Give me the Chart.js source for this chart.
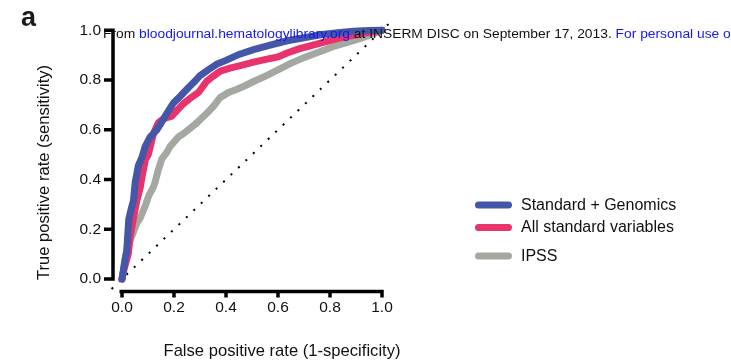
<!DOCTYPE html>
<html>

<head>
  <meta charset="utf-8" />
  <style>
    body { margin: 0; background: #fff; }
  </style>
</head>

<script src="https://cdn.jsdelivr.net/npm/chart.js"></script>

<body>
  <canvas id="rocChart" width="731" height="361"></canvas>

  <script>
    // ROC curves, false positive rate (x) against true positive rate (y)
    var genomicsFpr = [0, 0.006, 0.012, 0.018, 0.026, 0.035, 0.044, 0.051, 0.063, 0.077, 0.089, 0.108, 0.134, 0.152, 0.172, 0.198, 0.224, 0.256, 0.28, 0.30, 0.333, 0.365, 0.40, 0.45, 0.506, 0.57, 0.635, 0.70, 0.763, 0.83, 0.89, 0.95, 1.0];
    var genomicsTpr = [0, 0.04, 0.08, 0.11, 0.24, 0.28, 0.315, 0.39, 0.456, 0.49, 0.533, 0.571, 0.600, 0.630, 0.665, 0.708, 0.735, 0.77, 0.795, 0.818, 0.842, 0.864, 0.879, 0.903, 0.922, 0.94, 0.958, 0.97, 0.982, 0.99, 0.996, 0.999, 1.0];

    var standardFpr = [0, 0.008, 0.016, 0.024, 0.032, 0.045, 0.057, 0.070, 0.076, 0.09, 0.101, 0.121, 0.14, 0.16, 0.191, 0.236, 0.26, 0.294, 0.326, 0.35, 0.378, 0.415, 0.455, 0.506, 0.558, 0.60, 0.635, 0.68, 0.763, 0.84, 0.891, 0.95, 1.0];
    var standardTpr = [0, 0.04, 0.07, 0.10, 0.175, 0.25, 0.315, 0.367, 0.405, 0.48, 0.5, 0.584, 0.628, 0.645, 0.655, 0.705, 0.725, 0.75, 0.795, 0.815, 0.836, 0.848, 0.858, 0.872, 0.884, 0.893, 0.909, 0.925, 0.948, 0.97, 0.98, 0.992, 1.0];

    var ipssFpr = [0, 0.006, 0.015, 0.024, 0.039, 0.057, 0.07, 0.09, 0.103, 0.121, 0.128, 0.14, 0.153, 0.173, 0.185, 0.217, 0.236, 0.26, 0.288, 0.307, 0.33, 0.352, 0.378, 0.41, 0.44, 0.475, 0.506, 0.55, 0.596, 0.645, 0.699, 0.75, 0.814, 0.87, 0.917, 0.96, 1.0];
    var ipssTpr = [0, 0.034, 0.10, 0.138, 0.175, 0.225, 0.245, 0.295, 0.335, 0.37, 0.392, 0.44, 0.482, 0.51, 0.533, 0.571, 0.584, 0.604, 0.628, 0.647, 0.67, 0.695, 0.73, 0.75, 0.762, 0.778, 0.794, 0.815, 0.839, 0.865, 0.89, 0.91, 0.935, 0.952, 0.967, 0.983, 1.0];

    // chance line, runs a little past both ends of the axes
    var chanceRange = [-0.04, 1.03];

    var seriesLabels = ['Standard + Genomics', 'All standard variables', 'IPSS'];
    var tickValues = [0, 0.2, 0.4, 0.6, 0.8, 1.0];

    function toPoints(xs, ys) {
      return xs.map(function (x, i) { return { x: x, y: ys[i] }; });
    }

    var FONT = '"Liberation Sans", Arial, sans-serif';

    function curve(label, xs, ys, color) {
      return {
        label: label,
        data: toPoints(xs, ys),
        borderColor: color,
        backgroundColor: color,
        borderWidth: 7,
        borderCapStyle: 'round',
        borderJoinStyle: 'miter',
        pointRadius: 0,
        tension: 0,
        clip: false
      };
    }

    // offset Prism-style axes, titles, legend and the page stamp
    var decorations = {
      id: 'decorations',
      afterDraw: function (chart) {
        var ctx = chart.ctx;
        var xs = chart.scales.x, ys = chart.scales.y;
        var axisX = xs.getPixelForValue(0) - 9;
        var axisY = ys.getPixelForValue(0) + 12.5;

        ctx.save();
        ctx.strokeStyle = '#000';
        ctx.lineWidth = 3.5;
        ctx.lineCap = 'butt';

        // y axis + ticks
        ctx.beginPath();
        ctx.moveTo(axisX, ys.getPixelForValue(1) - 1.75);
        ctx.lineTo(axisX, ys.getPixelForValue(0) + 1.75);
        tickValues.forEach(function (v) {
          var py = ys.getPixelForValue(v);
          ctx.moveTo(axisX - 9, py);
          ctx.lineTo(axisX, py);
        });
        ctx.stroke();

        // x axis + ticks
        ctx.beginPath();
        ctx.moveTo(xs.getPixelForValue(0) - 2.5, axisY);
        ctx.lineTo(xs.getPixelForValue(1) + 1.75, axisY);
        tickValues.forEach(function (v) {
          var px = xs.getPixelForValue(v);
          ctx.moveTo(px, axisY - 1.75);
          ctx.lineTo(px, axisY + 6);
        });
        ctx.stroke();

        // axis titles
        ctx.fillStyle = '#111';
        ctx.font = '16.6px ' + FONT;
        ctx.textAlign = 'center';
        ctx.textBaseline = 'middle';
        ctx.fillText('False positive rate (1-specificity)', 282, 351);
        ctx.save();
        ctx.translate(44, 172.5);
        ctx.rotate(-Math.PI / 2);
        ctx.fillText('True positive rate (sensitivity)', 0, 0);
        ctx.restore();

        // panel letter
        ctx.font = 'bold 27px ' + FONT;
        ctx.textAlign = 'left';
        ctx.textBaseline = 'alphabetic';
        ctx.fillStyle = '#1a1a1a';
        ctx.fillText('a', 21, 26);

        // legend
        var rows = [205, 227.5, 256];
        ctx.font = '16px ' + FONT;
        ctx.textBaseline = 'middle';
        ctx.lineCap = 'round';
        ctx.lineWidth = 7;
        for (var i = 0; i < 3; i++) {
          var ds = chart.data.datasets[i];
          ctx.strokeStyle = ds.borderColor;
          ctx.beginPath();
          ctx.moveTo(478.5, rows[i]);
          ctx.lineTo(508.5, rows[i]);
          ctx.stroke();
          ctx.fillStyle = '#111';
          ctx.fillText(ds.label, 521, rows[i] + 0.5);
        }

        // download stamp across the top
        var stamp = [
          ['From ', '#111'],
          ['bloodjournal.hematologylibrary.org', '#1616e8'],
          [' at INSERM DISC on September 17, 2013. ', '#111'],
          ['For personal use only.', '#1616e8']
        ];
        ctx.save();
        ctx.translate(103, 38);
        ctx.scale(1.105, 1);
        ctx.font = '12.5px Arial, "Liberation Sans", sans-serif';
        ctx.textBaseline = 'alphabetic';
        var cx = 0;
        stamp.forEach(function (part) {
          ctx.fillStyle = part[1];
          ctx.fillText(part[0], cx, 0);
          cx += ctx.measureText(part[0]).width;
        });
        ctx.restore();

        ctx.restore();
      }
    };

    var tickOptions = {
      stepSize: 0.2,
      color: '#111',
      font: { family: FONT, size: 15.5 },
      callback: function (v) { return v.toFixed(1); }
    };

    new Chart(document.getElementById('rocChart'), {
      type: 'line',
      data: {
        datasets: [
          curve(seriesLabels[0], genomicsFpr, genomicsTpr, '#4456a8'),
          curve(seriesLabels[1], standardFpr, standardTpr, '#e8336d'),
          curve(seriesLabels[2], ipssFpr, ipssTpr, '#a3a9a0'),
          {
            label: 'Chance',
            data: toPoints(chanceRange, chanceRange),
            borderColor: '#000',
            borderWidth: 2,
            borderDash: [2, 8.3],
            pointRadius: 0,
            clip: false
          }
        ]
      },
      options: {
        responsive: false,
        animation: false,
        layout: { padding: { left: 0, top: 18, right: 349, bottom: 0 } },
        plugins: {
          legend: { display: false },
          tooltip: { enabled: false }
        },
        scales: {
          x: {
            type: 'linear',
            position: 'bottom',
            min: 0,
            max: 1,
            grid: { display: false, drawTicks: false },
            border: { display: false },
            ticks: Object.assign({ padding: 19 }, tickOptions),
            afterFit: function (s) { s.height = 82; }
          },
          y: {
            type: 'linear',
            position: 'left',
            min: 0,
            max: 1,
            grid: { display: false, drawTicks: false },
            border: { display: false },
            ticks: Object.assign({ padding: 21 }, tickOptions),
            afterFit: function (s) { s.width = 122; }
          }
        }
      },
      plugins: [decorations]
    });
  </script>
</body>

</html>
